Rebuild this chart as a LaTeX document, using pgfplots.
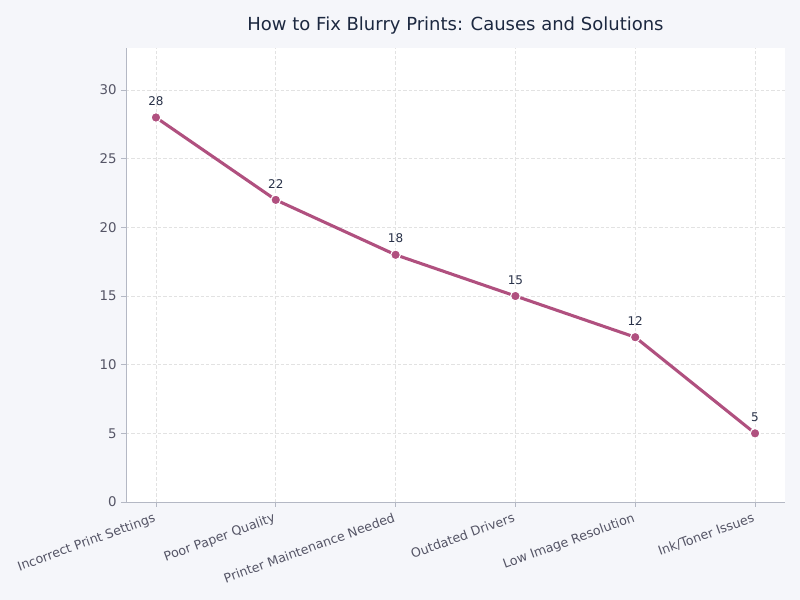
\documentclass[border=0pt]{standalone}
\usepackage{pgfplots}
\pgfplotsset{compat=1.18}
\usepackage{fontspec}
\setmainfont{DejaVu Sans}
\definecolor{bgc}{HTML}{F5F6FA}
\definecolor{linec}{HTML}{B0507F}
\definecolor{titlec}{HTML}{1C2840}
\definecolor{tickc}{HTML}{555566}
\definecolor{spinec}{HTML}{B4B8C4}
\definecolor{gridc}{HTML}{E2E2E2}
\begin{document}
\begin{tikzpicture}[x=0.75pt,y=0.75pt]
\fill[bgc] (0,0) rectangle (800,600);
\begin{axis}[
  at={(126*0.75pt,98*0.75pt)}, anchor=south west,
  scale only axis, width=494.25pt, height=340.5pt,
  axis background/.style={fill=white},
  xmin=-0.25, xmax=5.25, ymin=0, ymax=33.06,
  axis x line*=bottom, axis y line*=left,
  axis line style={spinec},
  xtick={0,1,2,3,4,5},
  xticklabels={Incorrect Print Settings,Poor Paper Quality,Printer Maintenance Needed,Outdated Drivers,Low Image Resolution,Ink/Toner Issues},
  xticklabel style={rotate=20, anchor=north east, font=\fontsize{9.5}{11}\selectfont, text=tickc, inner sep=2pt, xshift=-1.5pt, yshift=-1pt},
  ytick={0,5,10,15,20,25,30},
  yticklabel style={font=\fontsize{10}{12}\selectfont, text=tickc},
  /pgf/number format/assume math mode=true,
  tick align=outside, major tick length=3.5pt,
  tick style={spinec, line width=0.6pt},
  grid=major, major grid style={gridc, dash pattern=on 2.5pt off 1.5pt, line width=0.45pt},
  title={How to Fix Blurry Prints: Causes and Solutions},
  title style={font=\fontsize{13.5}{15}\selectfont, text=titlec, yshift=1pt},
  clip=false,
]
\addplot[linec, line width=2.3pt, mark=*, mark size=3.6pt,
  mark options={fill=linec, draw=white, line width=0.8pt},
  nodes near coords,
  every node near coord/.style={font=\fontsize{9}{10}\selectfont, text=titlec!80!tickc, yshift=5pt}]
coordinates {(0,28) (1,22) (2,18) (3,15) (4,12) (5,5)};
\end{axis}
\end{tikzpicture}
\end{document}
